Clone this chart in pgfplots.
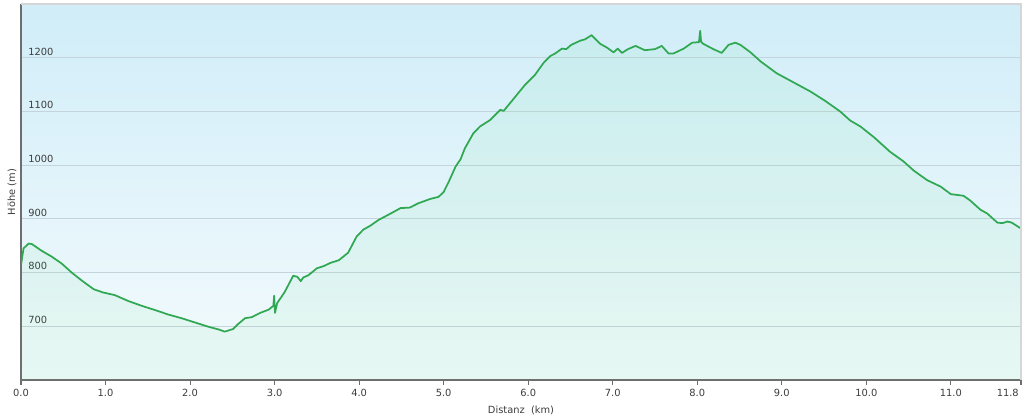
\documentclass[border=0pt]{standalone}
\usepackage{pgfplots}
\pgfplotsset{compat=1.18}
\usepackage{pgfplotstable}
\usepackage{fontspec}
\setmainfont{DejaVu Sans}

\definecolor{curvegreen}{RGB}{48,168,82}
\definecolor{fillgreen}{RGB}{70,215,120}
\definecolor{bgtop}{RGB}{208,237,248}
\definecolor{bgbottom}{RGB}{244,251,253}
\definecolor{gridc}{RGB}{196,212,220}
\definecolor{axisc}{RGB}{110,110,110}
\definecolor{borderc}{RGB}{212,214,216}
\definecolor{textc}{RGB}{60,60,60}

% distance (km)  elevation (m)
\pgfplotstableread{
km     m
0.00   814
0.03   845
0.09   854
0.13   853
0.24   841
0.36   830
0.48   817
0.60   800
0.72   785
0.86   769
0.97   763
1.11   758
1.27   747
1.43   738
1.59   730
1.74   722
1.90   715
2.06   707
2.22   699
2.34   694
2.41   690
2.51   695
2.56   703
2.65   715
2.73   717
2.83   725
2.93   731
2.985  738
2.995  757
3.005  725
3.03   743
3.12   764
3.22   794
3.27   792
3.31   784
3.34   791
3.40   795
3.50   808
3.58   812
3.66   818
3.76   823
3.87   837
3.97   867
4.05   880
4.13   887
4.23   898
4.35   908
4.49   920
4.60   921
4.70   929
4.84   937
4.94   941
5.00   950
5.06   969
5.14   997
5.20   1011
5.25   1031
5.35   1059
5.43   1072
5.55   1084
5.67   1103
5.71   1101
5.83   1124
5.96   1149
6.08   1168
6.18   1190
6.26   1203
6.32   1208
6.40   1217
6.45   1216
6.51   1224
6.62   1232
6.67   1234
6.75   1242
6.85   1226
6.93   1219
7.01   1210
7.06   1217
7.11   1209
7.18   1216
7.27   1222
7.38   1214
7.50   1216
7.58   1222
7.66   1208
7.72   1208
7.84   1217
7.94   1228
8.02   1229
8.035  1250
8.045  1230
8.07   1226
8.19   1216
8.29   1209
8.37   1224
8.45   1228
8.51   1224
8.63   1210
8.75   1193
8.94   1171
9.14   1154
9.34   1137
9.51   1120
9.69   1100
9.81   1083
9.93   1072
10.09  1052
10.28  1025
10.44  1007
10.56  990
10.72  972
10.88  960
11.00  946
11.15  943
11.23  934
11.35  917
11.43  910
11.55  893
11.61  892
11.67  895
11.72  893
11.78  887
11.83  882
}\profile

\begin{document}
\begin{tikzpicture}
\begin{axis}[
  at={(0,0)}, anchor=south west,
  scale only axis,
  width=750pt, height=282pt,
  xmin=0, xmax=11.83,
  ymin=600, ymax=1300,
  axis x line*=bottom,
  axis y line*=left,
  axis line style={draw=axisc, line width=1.3pt},
  axis background/.style={top color=bgtop, bottom color=bgbottom},
  xtick={0,1,2,3,4,5,6,7,8,9,10,11},
  xticklabels={0.0,1.0,2.0,3.0,4.0,5.0,6.0,7.0,8.0,9.0,10.0,11.0},
  extra x ticks={11.83},
  extra x tick labels={11.8},
  extra x tick style={
    xticklabel style={anchor=north east, xshift=-1.5pt},
  },
  ytick={700,800,900,1000,1100,1200},
  yticklabels={700,800,900,1000,1100,1200},
  ymajorgrids,
  grid style={draw=gridc, line width=0.8pt},
  xtick align=outside,
  ytick align=inside,
  major tick length=3.5pt,
  xtick style={draw=axisc, line width=0.8pt},
  ytick style={draw=none},
  tick label style={font=\fontsize{7.4}{8}\selectfont, text=textc},
  xticklabel style={anchor=north, inner sep=0pt, yshift=-3pt},
  yticklabel style={anchor=base west, inner sep=0pt, xshift=5.25pt, yshift=2pt},
  xlabel={Distanz\ \ (km)},
  ylabel={Höhe (m)},
  label style={font=\fontsize{7.4}{8}\selectfont, text=textc},
  xlabel style={at={(axis description cs:0.5,-0.081)}, anchor=center, inner sep=0pt},
  ylabel style={at={(axis description cs:-0.009,0.5)}, anchor=center, inner sep=0pt},
  extra description/.code={
    \draw[borderc, line width=1.2pt] (rel axis cs:0,1) -- (rel axis cs:1,1) -- (rel axis cs:1,0);
  },
]
\addplot[draw=none, fill=fillgreen, fill opacity=0.07] table[x=km, y=m] {\profile} \closedcycle;
\addplot[curvegreen, line width=1.3pt, line join=round] table[x=km, y=m] {\profile};
\end{axis}
\pgfresetboundingbox
\useasboundingbox (-15.75pt,-27.75pt) rectangle (752.25pt,285pt);
\end{tikzpicture}
\end{document}
